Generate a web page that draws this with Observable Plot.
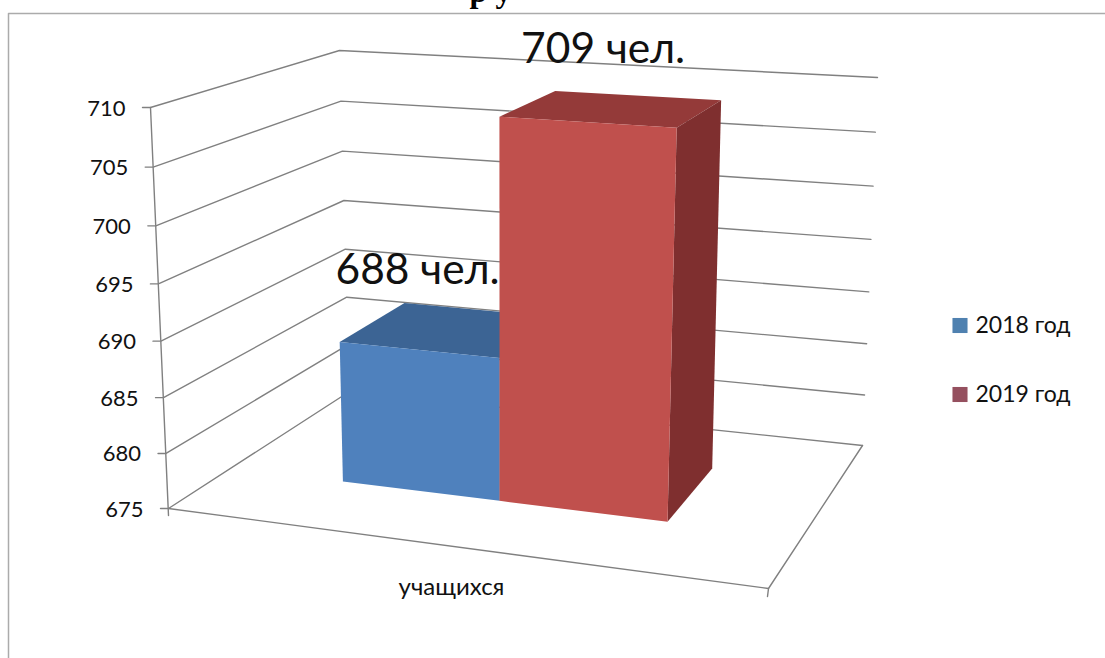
<!doctype html>
<html><head><meta charset="utf-8">
<style>html,body{margin:0;padding:0;background:#fff;overflow:hidden}svg{display:block}</style>
<script src="https://cdn.jsdelivr.net/npm/d3@7"></script>
<script src="https://cdn.jsdelivr.net/npm/@observablehq/plot@0.6"></script>
</head><body><script>
// data
const category = "учащихся";
const seriesNames = ["2018 год", "2019 год"];
const seriesValues = [688, 709];
const valueLabels = ["688 чел.", "709 чел."];
const valueTicks = [675, 680, 685, 690, 695, 700, 705, 710];
const titleFragment = "р у";

// colours
const frontColors = ["#4f81bd", "#c0504d"];
const topColors = ["#3c6494", "#943a39"];
const sideColors = ["#39597f", "#7f2f2f"];
const legendColors = ["#4f81b0", "#95505f"];

// camera: where the corners of the 3D box land on the picture
const cube = {
  fl0: [168, 508], fr0: [768, 588], bl0: [349, 391], br0: [862, 445],
  fl1: [150, 107], fr1: [786, 149], bl1: [339, 50], br1: [877, 77]
};
const barEdges = [0.195, 0.47, 0.765];
const barDepth = [0.35, 0.74];
const labelShift = [-32, -10];
const vDomain = [d3.min(valueTicks), d3.max(valueTicks)];
const lerp = (a, b, t) => [a[0] + (b[0] - a[0]) * t, a[1] + (b[1] - a[1]) * t];
const warp = (value) => {
  const t = (value - vDomain[0]) / (vDomain[1] - vDomain[0]);
  return t / (t + (1 - t) * 1.047);
};
// u: along the category axis, value: on the value axis, w: depth
const project = (u, value, w) => {
  const v = warp(value);
  const b = lerp(lerp(cube.fl0, cube.fr0, u), lerp(cube.bl0, cube.br0, u), w);
  const t = lerp(lerp(cube.fl1, cube.fr1, u), lerp(cube.bl1, cube.br1, u), w);
  const p = lerp(b, t, v);
  return {x: p[0], y: p[1]};
};

const font = "Lato, 'Open Sans', sans-serif";
const gridStyle = {x: "x", y: "y", stroke: "#808080", strokeWidth: 1.4};
const base = vDomain[0], ceil = vDomain[1];

const marks = [];
// frame
marks.push(Plot.line([[1105, 13], [8, 13], [8, 658]], {x: d => d[0], y: d => d[1], stroke: "#ababab", strokeWidth: 1.5}));
// title, cut by the picture's top edge as in the reference
marks.push(Plot.text([titleFragment], {x: () => 490, y: () => -9, text: d => d, fontFamily: "'Liberation Serif', serif", fontWeight: "bold", fontSize: 32, textAnchor: "middle", fill: "#000"}));

// walls
for (const value of valueTicks) {
  const front = project(0, value, 0);
  marks.push(Plot.line([{x: front.x - 8, y: front.y}, front, project(0, value, 1), project(1, value, 1)], gridStyle));
}
marks.push(Plot.line([project(0, ceil, 0), {x: project(0, base, 0).x, y: project(0, base, 0).y + 7}], gridStyle));
marks.push(Plot.line([project(0, base, 0), project(1, base, 0), project(1, base, 1)], gridStyle));
marks.push(Plot.line([project(1, base, 0), {x: project(1, base, 0).x - 1, y: project(1, base, 0).y + 8}], gridStyle));

// bars
const face = (pts, fill) => Plot.line(pts, {x: "x", y: "y", fill, stroke: "none"});
seriesValues.forEach((value, i) => {
  const [u0, u1] = [barEdges[i], barEdges[i + 1]];
  const [w0, w1] = barDepth;
  marks.push(face([project(u0, value, w0), project(u0, value, w1), project(u1, value, w1), project(u1, value, w0)], topColors[i]));
  marks.push(face([project(u1, value, w0), project(u1, value, w1), project(u1, base, w1), project(u1, base, w0)], sideColors[i]));
  marks.push(face([project(u0, value, w0), project(u1, value, w0), project(u1, base, w0), project(u0, base, w0)], frontColors[i]));
});

// value axis labels
marks.push(Plot.text(valueTicks, {
  x: d => project(0, d, 0).x - 25, y: d => project(0, d, 0).y + 1,
  text: d => String(d), textAnchor: "end", fontFamily: font, fontSize: 22, fill: "#111"
}));
// category label
marks.push(Plot.text([category], {
  x: () => project(0.475, base, 0).x - 2, y: () => project(0.475, base, 0).y + 41,
  text: d => d, fontFamily: font, fontSize: 24, fill: "#111"
}));
// value labels
marks.push(Plot.text(seriesValues, {
  x: (d, i) => project((barEdges[i] + barEdges[i + 1]) / 2, d, 0.545).x + labelShift[i],
  y: (d, i) => project((barEdges[i] + barEdges[i + 1]) / 2, d, 0.545).y - 60,
  text: (d, i) => valueLabels[i], fontFamily: font, fontSize: 42.5, fill: "#111"
}));
// legend
const legendRows = [325, 394];
marks.push(Plot.dot(seriesNames, {
  x: () => 959.5, y: (d, i) => legendRows[i], r: 8.5, symbol: "square", fill: (d, i) => legendColors[i], stroke: "none"
}));
marks.push(Plot.text(seriesNames, {
  x: () => 975, y: (d, i) => legendRows[i], text: d => d, textAnchor: "start", fontFamily: font, fontSize: 23, fill: "#111"
}));

const chart = Plot.plot({
  width: 1105, height: 658, margin: 0,
  x: {domain: [0, 1105], range: [0, 1105], axis: null},
  y: {domain: [0, 658], range: [0, 658], axis: null},
  style: {background: "#fff"},
  marks
});
document.body.appendChild(chart);
</script></body></html>
